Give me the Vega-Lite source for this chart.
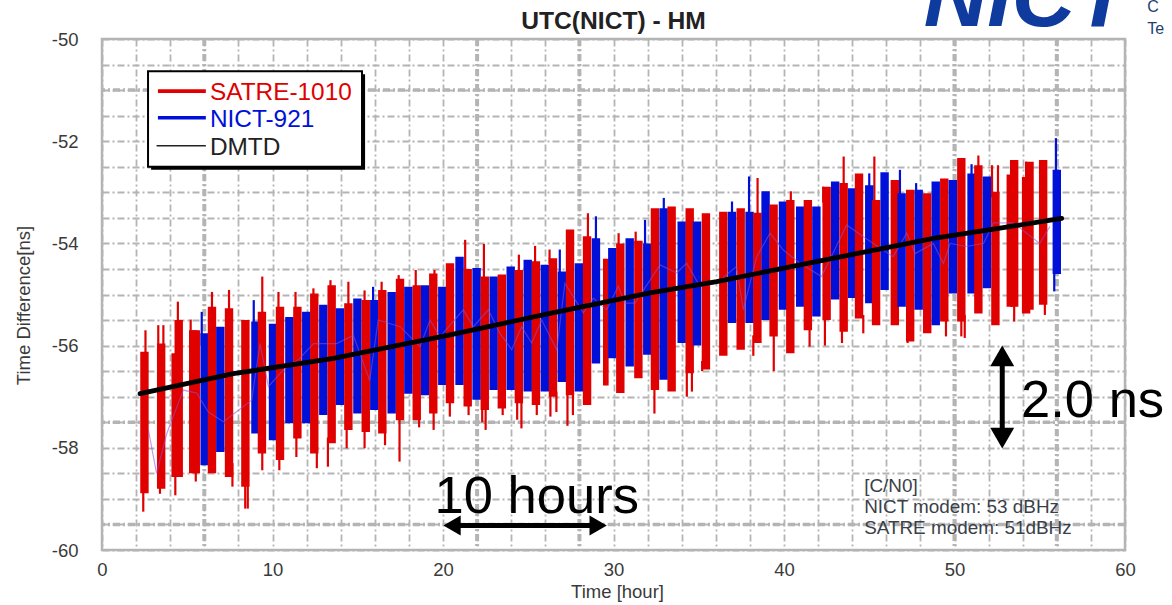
{"$schema":"https://vega.github.io/schema/vega-lite/v6.json","autosize":{"type":"none"},"padding":{"left":102,"top":39,"right":47,"bottom":55},"width":1023,"height":511,"background":"white","config":{"view":{"stroke":"#b4b4b4","strokeWidth":2.5},"font":"Liberation Sans"},
"datasets":{
"core":[
{"t":2.49,"v":-56.12,"v2":-58.89,"s":"SATRE-1010"},{"t":3.47,"v":-55.96,"v2":-58.8,"s":"SATRE-1010"},{"t":4.32,"v":-56.15,"v2":-58.57,"s":"SATRE-1010"},{"t":4.5,"v":-55.5,"v2":-58.57,"s":"SATRE-1010"},{"t":5.35,"v":-55.7,"v2":-58.5,"s":"SATRE-1010"},{"t":5.5,"v":-55.7,"v2":-58.5,"s":"SATRE-1010"},
{"t":6.02,"v":-55.76,"v2":-58.34,"s":"NICT-921"},{"t":6.45,"v":-55.24,"v2":-58.5,"s":"SATRE-1010"},{"t":6.94,"v":-55.63,"v2":-58.08,"s":"NICT-921"},{"t":7.45,"v":-55.27,"v2":-58.57,"s":"SATRE-1010"},{"t":8.41,"v":-55.5,"v2":-58.76,"s":"SATRE-1010"},{"t":9.0,"v":-55.53,"v2":-57.72,"s":"NICT-921"},{"t":9.38,"v":-55.34,"v2":-58.11,"s":"SATRE-1010"},{"t":10.03,"v":-55.57,"v2":-57.85,"s":"NICT-921"},{"t":10.44,"v":-55.24,"v2":-58.24,"s":"SATRE-1010"},{"t":10.99,"v":-55.44,"v2":-57.52,"s":"NICT-921"},{"t":11.46,"v":-55.24,"v2":-57.82,"s":"SATRE-1010"},{"t":11.98,"v":-55.34,"v2":-57.52,"s":"NICT-921"},{"t":12.45,"v":-54.98,"v2":-58.11,"s":"SATRE-1010"},{"t":12.98,"v":-55.2,"v2":-57.36,"s":"NICT-921"},{"t":13.47,"v":-54.82,"v2":-57.91,"s":"SATRE-1010"},{"t":13.96,"v":-55.27,"v2":-57.16,"s":"NICT-921"},{"t":14.45,"v":-55.17,"v2":-57.65,"s":"SATRE-1010"},{"t":14.98,"v":-55.08,"v2":-57.33,"s":"NICT-921"},{"t":15.47,"v":-55.11,"v2":-57.69,"s":"SATRE-1010"},{"t":15.97,"v":-55.11,"v2":-57.26,"s":"NICT-921"},{"t":16.44,"v":-54.91,"v2":-57.72,"s":"SATRE-1010"},{"t":16.99,"v":-54.95,"v2":-57.33,"s":"NICT-921"},{"t":17.48,"v":-54.69,"v2":-57.46,"s":"SATRE-1010"},{"t":17.97,"v":-54.85,"v2":-56.94,"s":"NICT-921"},{"t":18.46,"v":-54.82,"v2":-57.46,"s":"SATRE-1010"},{"t":18.95,"v":-54.82,"v2":-56.97,"s":"NICT-921"},{"t":19.43,"v":-54.59,"v2":-57.33,"s":"SATRE-1010"},{"t":19.96,"v":-54.85,"v2":-56.77,"s":"NICT-921"},{"t":20.41,"v":-54.39,"v2":-57.13,"s":"SATRE-1010"},{"t":20.97,"v":-54.26,"v2":-56.77,"s":"NICT-921"},{"t":21.45,"v":-54.5,"v2":-57.19,"s":"SATRE-1010"},{"t":21.97,"v":-54.48,"v2":-57.06,"s":"NICT-921"},{"t":22.45,"v":-54.65,"v2":-57.26,"s":"SATRE-1010"},{"t":22.97,"v":-54.65,"v2":-56.87,"s":"NICT-921"},{"t":23.45,"v":-54.61,"v2":-57.23,"s":"SATRE-1010"},{"t":23.97,"v":-54.45,"v2":-56.87,"s":"NICT-921"},{"t":24.45,"v":-54.52,"v2":-57.13,"s":"SATRE-1010"},{"t":24.97,"v":-54.32,"v2":-56.9,"s":"NICT-921"},{"t":25.45,"v":-54.35,"v2":-57.16,"s":"SATRE-1010"},{"t":25.97,"v":-54.42,"v2":-56.9,"s":"NICT-921"},{"t":26.45,"v":-54.29,"v2":-57.0,"s":"SATRE-1010"},{"t":26.97,"v":-54.55,"v2":-56.71,"s":"NICT-921"},{"t":27.45,"v":-53.73,"v2":-56.97,"s":"SATRE-1010"},{"t":27.97,"v":-54.39,"v2":-56.9,"s":"NICT-921"},{"t":28.45,"v":-53.86,"v2":-57.16,"s":"SATRE-1010"},{"t":28.97,"v":-53.9,"v2":-56.35,"s":"NICT-921"},{"t":29.93,"v":-54.09,"v2":-56.25,"s":"NICT-921"},{"t":30.4,"v":-54.0,"v2":-56.93,"s":"SATRE-1010"},{"t":30.95,"v":-53.9,"v2":-56.41,"s":"NICT-921"},{"t":31.46,"v":-53.95,"v2":-56.64,"s":"SATRE-1010"},{"t":31.98,"v":-54.0,"v2":-56.18,"s":"NICT-921"},{"t":32.43,"v":-53.31,"v2":-56.87,"s":"SATRE-1010"},{"t":32.94,"v":-53.31,"v2":-56.67,"s":"NICT-921"},{"t":33.41,"v":-53.28,"v2":-56.9,"s":"SATRE-1010"},{"t":34.0,"v":-53.57,"v2":-55.95,"s":"NICT-921"},{"t":34.47,"v":-53.31,"v2":-56.54,"s":"SATRE-1010"},{"t":34.9,"v":-53.57,"v2":-56.0,"s":"NICT-921"},{"t":35.42,"v":-53.41,"v2":-56.47,"s":"SATRE-1010"},{"t":36.44,"v":-53.38,"v2":-56.2,"s":"SATRE-1010"},{"t":36.95,"v":-53.38,"v2":-55.56,"s":"NICT-921"},{"t":37.46,"v":-53.31,"v2":-56.08,"s":"SATRE-1010"},{"t":37.98,"v":-53.38,"v2":-55.56,"s":"NICT-921"},{"t":38.44,"v":-53.4,"v2":-55.95,"s":"SATRE-1010"},{"t":38.92,"v":-52.98,"v2":-55.5,"s":"NICT-921"},{"t":39.39,"v":-53.24,"v2":-55.82,"s":"SATRE-1010"},{"t":39.94,"v":-53.18,"v2":-55.3,"s":"NICT-921"},{"t":40.37,"v":-53.15,"v2":-56.15,"s":"SATRE-1010"},{"t":40.95,"v":-53.28,"v2":-55.24,"s":"NICT-921"},{"t":41.4,"v":-53.15,"v2":-55.7,"s":"SATRE-1010"},{"t":41.9,"v":-53.28,"v2":-55.43,"s":"NICT-921"},{"t":42.5,"v":-52.89,"v2":-55.5,"s":"SATRE-1010"},{"t":43.0,"v":-52.79,"v2":-55.1,"s":"NICT-921"},{"t":43.5,"v":-52.82,"v2":-55.73,"s":"SATRE-1010"},{"t":44.0,"v":-52.92,"v2":-55.07,"s":"NICT-921"},{"t":44.4,"v":-52.63,"v2":-55.47,"s":"SATRE-1010"},{"t":45.0,"v":-52.86,"v2":-55.17,"s":"NICT-921"},{"t":45.4,"v":-53.15,"v2":-55.6,"s":"SATRE-1010"},{"t":45.9,"v":-52.61,"v2":-54.91,"s":"NICT-921"},{"t":46.5,"v":-52.76,"v2":-55.6,"s":"SATRE-1010"},{"t":46.9,"v":-53.02,"v2":-55.24,"s":"NICT-921"},{"t":47.4,"v":-52.95,"v2":-55.92,"s":"SATRE-1010"},{"t":47.9,"v":-52.95,"v2":-55.3,"s":"NICT-921"},{"t":48.4,"v":-53.02,"v2":-55.76,"s":"SATRE-1010"},{"t":48.9,"v":-52.79,"v2":-55.6,"s":"NICT-921"},{"t":49.4,"v":-52.73,"v2":-55.53,"s":"SATRE-1010"},{"t":49.9,"v":-52.76,"v2":-54.98,"s":"NICT-921"},{"t":50.4,"v":-52.33,"v2":-55.53,"s":"SATRE-1010"},{"t":51.0,"v":-52.63,"v2":-54.98,"s":"NICT-921"},{"t":51.4,"v":-52.47,"v2":-55.37,"s":"SATRE-1010"},{"t":51.9,"v":-52.69,"v2":-54.88,"s":"NICT-921"},{"t":52.4,"v":-52.99,"v2":-55.6,"s":"SATRE-1010"},{"t":53.3,"v":-52.65,"v2":-55.24,"s":"SATRE-1010"},{"t":53.5,"v":-52.37,"v2":-55.24,"s":"SATRE-1010"},{"t":54.2,"v":-52.7,"v2":-55.37,"s":"SATRE-1010"},{"t":54.4,"v":-52.4,"v2":-55.3,"s":"SATRE-1010"},{"t":55.2,"v":-52.37,"v2":-55.2,"s":"SATRE-1010"},{"t":56.0,"v":-52.56,"v2":-54.6,"s":"NICT-921"}],
"spikes":[
{"t":2.55,"v":-55.7,"v2":-56.2,"s":"SATRE-1010"},{"t":2.42,"v":-58.7,"v2":-59.25,"s":"SATRE-1010"},{"t":3.3,"v":-55.6,"v2":-56.2,"s":"SATRE-1010"},{"t":3.6,"v":-55.6,"v2":-56.2,"s":"SATRE-1010"},{"t":3.4,"v":-58.5,"v2":-58.9,"s":"SATRE-1010"},{"t":4.45,"v":-55.14,"v2":-55.8,"s":"SATRE-1010"},{"t":4.3,"v":-58.4,"v2":-58.93,"s":"SATRE-1010"},{"t":5.2,"v":-55.49,"v2":-56.0,"s":"SATRE-1010"},{"t":5.5,"v":-58.3,"v2":-58.66,"s":"SATRE-1010"},{"t":5.85,"v":-55.34,"v2":-56.0,"s":"NICT-921"},{"t":6.45,"v":-54.95,"v2":-55.4,"s":"SATRE-1010"},{"t":7.45,"v":-54.91,"v2":-55.4,"s":"SATRE-1010"},{"t":7.65,"v":-58.3,"v2":-58.76,"s":"SATRE-1010"},{"t":8.4,"v":-58.5,"v2":-59.19,"s":"SATRE-1010"},{"t":8.55,"v":-58.5,"v2":-59.19,"s":"SATRE-1010"},{"t":8.9,"v":-55.11,"v2":-55.7,"s":"NICT-921"},{"t":9.4,"v":-54.65,"v2":-55.4,"s":"SATRE-1010"},{"t":9.4,"v":-58,"v2":-58.44,"s":"SATRE-1010"},{"t":10.35,"v":-54.95,"v2":-55.4,"s":"SATRE-1010"},{"t":10.4,"v":-58,"v2":-58.44,"s":"SATRE-1010"},{"t":11.35,"v":-54.95,"v2":-55.4,"s":"SATRE-1010"},{"t":11.4,"v":-57.7,"v2":-58.18,"s":"SATRE-1010"},{"t":12.4,"v":-54.88,"v2":-55.2,"s":"SATRE-1010"},{"t":12.6,"v":-58,"v2":-58.4,"s":"SATRE-1010"},{"t":13.4,"v":-54.72,"v2":-55,"s":"SATRE-1010"},{"t":13.25,"v":-57.8,"v2":-58.37,"s":"SATRE-1010"},{"t":14.45,"v":-54.75,"v2":-55.3,"s":"SATRE-1010"},{"t":14.35,"v":-57.5,"v2":-58.01,"s":"SATRE-1010"},{"t":15.4,"v":-54.92,"v2":-55.3,"s":"SATRE-1010"},{"t":15.4,"v":-57.5,"v2":-58.01,"s":"SATRE-1010"},{"t":15.9,"v":-54.85,"v2":-55.2,"s":"NICT-921"},{"t":16.4,"v":-54.75,"v2":-55,"s":"SATRE-1010"},{"t":16.6,"v":-57.5,"v2":-57.95,"s":"SATRE-1010"},{"t":17.4,"v":-54.62,"v2":-54.9,"s":"SATRE-1010"},{"t":17.45,"v":-57.3,"v2":-58.27,"s":"SATRE-1010"},{"t":18.4,"v":-54.52,"v2":-54.9,"s":"SATRE-1010"},{"t":18.6,"v":-57.3,"v2":-57.6,"s":"SATRE-1010"},{"t":19.5,"v":-54.52,"v2":-54.8,"s":"SATRE-1010"},{"t":19.45,"v":-57.2,"v2":-57.65,"s":"SATRE-1010"},{"t":20.4,"v":-57,"v2":-57.39,"s":"SATRE-1010"},{"t":21.3,"v":-53.93,"v2":-54.6,"s":"SATRE-1010"},{"t":21.5,"v":-57,"v2":-57.36,"s":"SATRE-1010"},{"t":22.4,"v":-54.01,"v2":-54.8,"s":"SATRE-1010"},{"t":22.3,"v":-57.1,"v2":-57.5,"s":"SATRE-1010"},{"t":22.5,"v":-57.1,"v2":-57.65,"s":"SATRE-1010"},{"t":23.5,"v":-57.1,"v2":-57.36,"s":"SATRE-1010"},{"t":24.45,"v":-54.22,"v2":-54.6,"s":"SATRE-1010"},{"t":24.35,"v":-57,"v2":-57.45,"s":"SATRE-1010"},{"t":24.6,"v":-57,"v2":-57.62,"s":"SATRE-1010"},{"t":25.4,"v":-54.05,"v2":-54.4,"s":"SATRE-1010"},{"t":25.5,"v":-57,"v2":-57.36,"s":"SATRE-1010"},{"t":26.25,"v":-54.12,"v2":-54.4,"s":"SATRE-1010"},{"t":26.3,"v":-56.9,"v2":-57.39,"s":"SATRE-1010"},{"t":26.65,"v":-56.9,"v2":-57.3,"s":"SATRE-1010"},{"t":26.85,"v":-54.12,"v2":-54.6,"s":"NICT-921"},{"t":27.3,"v":-56.9,"v2":-57.57,"s":"SATRE-1010"},{"t":27.62,"v":-56.9,"v2":-57.36,"s":"SATRE-1010"},{"t":28.5,"v":-53.41,"v2":-54,"s":"SATRE-1010"},{"t":28.97,"v":-53.47,"v2":-54,"s":"NICT-921"},{"t":29.55,"v":-54.3,"v2":-56.78,"s":"SATRE-1010"},{"t":29.45,"v":-54.3,"v2":-56.78,"s":"SATRE-1010"},{"t":29.65,"v":-54.3,"v2":-56.78,"s":"SATRE-1010"},{"t":30.3,"v":-53.8,"v2":-54.2,"s":"SATRE-1010"},{"t":31.3,"v":-53.77,"v2":-54.1,"s":"SATRE-1010"},{"t":31.85,"v":-53.54,"v2":-54.1,"s":"NICT-921"},{"t":32.4,"v":-56.7,"v2":-57.33,"s":"SATRE-1010"},{"t":32.95,"v":-53.11,"v2":-53.4,"s":"NICT-921"},{"t":34.3,"v":-56.4,"v2":-57,"s":"SATRE-1010"},{"t":34.6,"v":-56.4,"v2":-56.9,"s":"SATRE-1010"},{"t":35.2,"v":-56.3,"v2":-56.5,"s":"SATRE-1010"},{"t":36.95,"v":-53.18,"v2":-53.5,"s":"NICT-921"},{"t":37.95,"v":-52.69,"v2":-53.5,"s":"NICT-921"},{"t":38.45,"v":-52.72,"v2":-53.5,"s":"SATRE-1010"},{"t":38.2,"v":-55.8,"v2":-56.2,"s":"SATRE-1010"},{"t":39.4,"v":-55.7,"v2":-56.5,"s":"SATRE-1010"},{"t":40.4,"v":-52.98,"v2":-53.3,"s":"SATRE-1010"},{"t":41.5,"v":-55.6,"v2":-56.02,"s":"SATRE-1010"},{"t":42.3,"v":-52.89,"v2":-53.2,"s":"SATRE-1010"},{"t":42.4,"v":-55.4,"v2":-56,"s":"SATRE-1010"},{"t":43.5,"v":-52.3,"v2":-52.9,"s":"SATRE-1010"},{"t":43.4,"v":-55.6,"v2":-55.95,"s":"SATRE-1010"},{"t":44.65,"v":-55.4,"v2":-55.76,"s":"SATRE-1010"},{"t":45.3,"v":-52.3,"v2":-53.2,"s":"SATRE-1010"},{"t":45.0,"v":-52.63,"v2":-52.9,"s":"NICT-921"},{"t":46.8,"v":-52.56,"v2":-53.1,"s":"NICT-921"},{"t":47.25,"v":-55.8,"v2":-55.95,"s":"SATRE-1010"},{"t":47.75,"v":-52.82,"v2":-53,"s":"NICT-921"},{"t":49.5,"v":-55.4,"v2":-55.82,"s":"SATRE-1010"},{"t":50.4,"v":-55.4,"v2":-55.82,"s":"SATRE-1010"},{"t":50.6,"v":-55.4,"v2":-55.85,"s":"SATRE-1010"},{"t":51.0,"v":-52.45,"v2":-52.7,"s":"NICT-921"},{"t":51.4,"v":-52.28,"v2":-52.6,"s":"SATRE-1010"},{"t":52.2,"v":-52.47,"v2":-53.1,"s":"SATRE-1010"},{"t":52.55,"v":-52.47,"v2":-53.1,"s":"SATRE-1010"},{"t":53.5,"v":-55.1,"v2":-55.53,"s":"SATRE-1010"},{"t":54.2,"v":-52.4,"v2":-52.7,"s":"SATRE-1010"},{"t":55.3,"v":-55.1,"v2":-55.4,"s":"SATRE-1010"},{"t":55.85,"v":-54.5,"v2":-54.94,"s":"NICT-921"},{"t":55.95,"v":-51.94,"v2":-52.6,"s":"NICT-921"}],
"links":[{"t":2.72,"v":-57.65},{"t":3.2,"v":-58.5},{"t":3.8,"v":-57.72},{"t":4.77,"v":-56.87},{"t":5.55,"v":-56.93},{"t":6.24,"v":-57.3},{"t":7.12,"v":-57.49},{"t":8.78,"v":-57.07},{"t":9.27,"v":-55.96},{"t":9.76,"v":-56.8},{"t":10.63,"v":-56.48},{"t":11.6,"v":-56.25},{"t":12.4,"v":-55.96},{"t":13.76,"v":-55.96},{"t":14.74,"v":-55.8},{"t":15.7,"v":-56.68},{"t":16.2,"v":-55.5},{"t":17.48,"v":-55.63},{"t":18.65,"v":-56.02},{"t":19.24,"v":-55.5},{"t":19.82,"v":-55.83},{"t":21.19,"v":-55.3},{"t":21.78,"v":-55.63},{"t":22.66,"v":-55.3},{"t":23.34,"v":-55.76},{"t":24.03,"v":-56.08},{"t":24.61,"v":-55.63},{"t":25.2,"v":-55.95},{"t":25.79,"v":-55.5},{"t":26.67,"v":-56.08},{"t":27.15,"v":-54.78},{"t":28.23,"v":-55.36},{"t":28.82,"v":-55.07},{"t":29.6,"v":-55.3},{"t":30.28,"v":-54.84},{"t":30.67,"v":-55.17},{"t":31.26,"v":-55.17},{"t":32.73,"v":-54.42},{"t":33.7,"v":-54.58},{"t":34.29,"v":-54.39},{"t":35.07,"v":-54.84},{"t":36.05,"v":-54.78},{"t":37.22,"v":-54.45},{"t":37.61,"v":-55.3},{"t":38.4,"v":-54.26},{"t":39.18,"v":-53.8},{"t":39.96,"v":-54.13},{"t":40.94,"v":-54.39},{"t":42.2,"v":-54.65},{"t":43.68,"v":-53.64},{"t":44.65,"v":-53.87},{"t":46.4,"v":-54.26},{"t":47.2,"v":-53.8},{"t":47.7,"v":-54.2},{"t":48.76,"v":-54.0},{"t":49.35,"v":-54.39},{"t":49.74,"v":-54.0},{"t":50.7,"v":-54.06},{"t":51.7,"v":-54.0},{"t":52.28,"v":-53.6},{"t":53.45,"v":-53.6},{"t":55.0,"v":-54.0},{"t":55.6,"v":-53.67}],
"dmtd":[{"t":2.23,"v":-56.94},{"t":7.7,"v":-56.55},{"t":13.57,"v":-56.25},{"t":20.41,"v":-55.79},{"t":26.27,"v":-55.37},{"t":32.14,"v":-54.97},{"t":36.05,"v":-54.75},{"t":40.94,"v":-54.42},{"t":44.85,"v":-54.16},{"t":48.76,"v":-53.9},{"t":52.67,"v":-53.7},{"t":56.29,"v":-53.51}],
"heavyX":[{"t":6},{"t":22},{"t":28},{"t":50},{"t":56}],
"heavyY":[{"v":-51},{"v":-57.5},{"v":-59.5}],
"legendLines":[{"t":3.28,"t2":6.09,"v":-51.02,"s":"SATRE-1010"},{"t":3.28,"t2":6.09,"v":-51.54,"s":"NICT-921"}],
"legendText":[{"t":6.33,"v":-51.19,"s":"SATRE-1010"},{"t":6.33,"v":-51.72,"s":"NICT-921"},{"t":6.33,"v":-52.27,"s":"DMTD"}],
"notes":[{"t":44.7,"v":-58.87,"label":"[C/N0]"},{"t":44.7,"v":-59.28,"label":"NICT modem: 53 dBHz"},{"t":44.7,"v":-59.69,"label":"SATRE modem: 51dBHz"}]
},
"encoding":{"x":{"field":"t","type":"quantitative","scale":{"domain":[0,60],"nice":false,"zero":false},"axis":{"values":[0,2,4,6,8,10,12,14,16,18,20,22,24,26,28,30,32,34,36,38,40,42,44,46,48,50,52,54,56,58,60],"labelExpr":"datum.value % 10 === 0 ? datum.label : ''","labelFlush":false,"title":"Time [hour]","titleFont":"Liberation Sans","titleFontSize":18.5,"titleFontWeight":"normal","titleColor":"#3a3a3a","titlePadding":4,"titleX":515,"labelFont":"Liberation Sans","labelFontSize":18.5,"labelColor":"#3a3a3a","labelPadding":10,"labelOverlap":false,"ticks":false,"domain":false,"grid":true,"gridColor":"#b4b4b4","gridWidth":1.8,"gridDash":[7,3,2,3]}},
"y":{"field":"v","type":"quantitative","scale":{"domain":[-60,-50],"nice":false,"zero":false},"axis":{"values":[-60,-59.5,-59,-58.5,-58,-57.5,-57,-56.5,-56,-55.5,-55,-54.5,-54,-53.5,-53,-52.5,-52,-51.5,-51,-50.5,-50],"labelExpr":"datum.value % 2 === 0 ? '-' + abs(datum.value) : ''","labelFlush":false,"title":"Time Difference[ns]","titleFont":"Liberation Sans","titleFontSize":18.5,"titleFontWeight":"normal","titleColor":"#3a3a3a","titleX":-69,"titleY":266,"labelFont":"Liberation Sans","labelFontSize":18.5,"labelColor":"#3a3a3a","labelPadding":24,"labelOverlap":false,"ticks":false,"domain":false,"grid":true,"gridColor":"#b4b4b4","gridWidth":1.8,"gridDash":[7,3,2,3]}}},
"layer":[
{"data":{"name":"heavyX"},"mark":{"type":"rule","stroke":"#b4b4b4","strokeWidth":4,"strokeDash":[7,3,2,3]},"encoding":{"y":null}},
{"data":{"name":"heavyY"},"mark":{"type":"rule","stroke":"#b4b4b4","strokeWidth":3.5,"strokeDash":[7,3,2,3]},"encoding":{"x":null}},
{"data":{"name":"spikes"},"mark":{"type":"rule","strokeWidth":2.2},"encoding":{"y2":{"field":"v2"},"color":{"field":"s","type":"nominal","legend":null,"scale":{"domain":["SATRE-1010","NICT-921","DMTD"],"range":["#e00000","#0010d8","#222222"]}}}},
{"data":{"name":"core"},"mark":{"type":"rule","strokeWidth":8.4},"encoding":{"y2":{"field":"v2"},"color":{"field":"s","type":"nominal","legend":null}}},
{"data":{"name":"links"},"mark":{"type":"line","stroke":"#8f4fd0","strokeWidth":1.2,"opacity":0.55}},
{"data":{"name":"dmtd"},"mark":{"type":"line","stroke":"#000000","strokeWidth":4.8,"strokeCap":"round"}},
{"data":{"values":[{"t":2.88,"t2":15.43,"v":-50.69,"v2":-52.56}]},"mark":{"type":"rect","fill":"#000000"},"encoding":{"x2":{"field":"t2"},"y2":{"field":"v2"}}},
{"data":{"values":[{"t":2.7,"t2":15.25,"v":-50.63,"v2":-52.5}]},"mark":{"type":"rect","fill":"#ffffff","stroke":"#000000","strokeWidth":2},"encoding":{"x2":{"field":"t2"},"y2":{"field":"v2"}}},
{"data":{"name":"legendLines"},"mark":{"type":"rule","strokeWidth":3.6},"encoding":{"x2":{"field":"t2"},"color":{"field":"s","type":"nominal","legend":null}}},
{"data":{"values":[{"t":3.2,"t2":6.09,"v":-52.09}]},"mark":{"type":"rule","stroke":"#222222","strokeWidth":1.6},"encoding":{"x2":{"field":"t2"}}},
{"data":{"name":"legendText"},"mark":{"type":"text","align":"left","baseline":"alphabetic","font":"Liberation Sans","fontSize":24.4},"encoding":{"text":{"field":"s"},"color":{"field":"s","type":"nominal","legend":null}}},
{"data":{"name":"notes"},"mark":{"type":"text","align":"left","baseline":"alphabetic","font":"Liberation Sans","fontSize":18.9,"fill":"#3a3f4a"},"encoding":{"text":{"field":"label"}}},
{"data":{"values":[{"t":52.8,"v":-56.1,"v2":-57.9}]},"mark":{"type":"rule","stroke":"#000000","strokeWidth":5},"encoding":{"y2":{"field":"v2"}}},
{"data":{"values":[{"t":52.8,"v":-56.2}]},"mark":{"type":"point","shape":"triangle-up","filled":true,"fill":"#000000","opacity":1,"size":576}},
{"data":{"values":[{"t":52.8,"v":-57.81}]},"mark":{"type":"point","shape":"triangle-down","filled":true,"fill":"#000000","opacity":1,"size":576}},
{"data":{"values":[{"t":20.5,"t2":29.1,"v":-59.52}]},"mark":{"type":"rule","stroke":"#000000","strokeWidth":5},"encoding":{"x2":{"field":"t2"}}},
{"data":{"values":[{"t":20.53,"v":-59.52}]},"mark":{"type":"point","shape":"triangle-left","filled":true,"fill":"#000000","opacity":1,"size":400}},
{"data":{"values":[{"t":29.1,"v":-59.52}]},"mark":{"type":"point","shape":"triangle-right","filled":true,"fill":"#000000","opacity":1,"size":400}},
{"data":{"values":[{"t":25.5,"v":-59.28,"label":"10 hours"},{"t":58.1,"v":-57.4,"label":"2.0 ns"}]},"mark":{"type":"text","align":"center","baseline":"alphabetic","font":"Liberation Sans","fontSize":52.5,"fill":"#000000"},"encoding":{"text":{"field":"label"}}},
{"data":{"values":[{"t":30,"v":-49.81,"label":"UTC(NICT) - HM"}]},"mark":{"type":"text","align":"center","baseline":"alphabetic","font":"Liberation Sans","fontSize":24.6,"fontWeight":"bold","fill":"#222222"},"encoding":{"text":{"field":"label"}}},
{"data":{"values":[{"t":48.2,"v":-49.75,"label":"NICT"}]},"mark":{"type":"text","align":"left","baseline":"alphabetic","font":"Liberation Sans","fontSize":88,"fontWeight":"bold","fontStyle":"italic","fill":"#0f3a9e"},"encoding":{"text":{"field":"label"}}},
{"data":{"values":[{"t":61.3,"v":-49.47,"label":"C"},{"t":61.3,"v":-49.9,"label":"Te"}]},"mark":{"type":"text","align":"left","baseline":"alphabetic","font":"Liberation Sans","fontSize":16,"fill":"#1f3f70"},"encoding":{"text":{"field":"label"}}}
]}
